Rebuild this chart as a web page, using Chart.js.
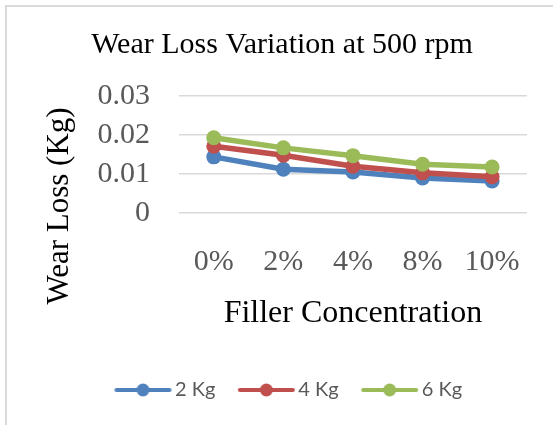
<!DOCTYPE html>
<html>
<head>
<meta charset="utf-8">
<script src="https://cdn.jsdelivr.net/npm/chart.js@4"></script>
<style>
  html, body { margin: 0; padding: 0; background: #fff; overflow: hidden; }
  #frame { position: absolute; left: 5px; top: 5px; width: 700px; height: 600px;
           border-left: 2px solid #d9d9d9; border-top: 2px solid #d9d9d9; }
  #c { position: absolute; left: 0; top: 0; }
</style>
</head>
<body>
<div id="frame"></div>
<canvas id="c" width="553" height="425"></canvas>
<script>
const categories = ['0%', '2%', '4%', '8%', '10%'];
const seriesNames = ['2 Kg', '4 Kg', '6 Kg'];
const kg2 = [0.0144, 0.0112, 0.0105, 0.0090, 0.0082];
const kg4 = [0.0171, 0.0148, 0.0120, 0.0103, 0.0093];
const kg6 = [0.0193, 0.0167, 0.0147, 0.0125, 0.0118];
const yTickLabels = ['0', '0.01', '0.02', '0.03'];
const titleText = 'Wear Loss Variation at 500 rpm';
const xTitleText = 'Filler Concentration';
const yTitleText = 'Wear Loss (Kg)';

const colors = ['#4f81bd', '#c0504d', '#9bbb59'];
const serif = "'Liberation Serif', 'Times New Roman', serif";

function legendIcon(color) {
  const cv = document.createElement('canvas');
  cv.width = 80; cv.height = 16;
  const g = cv.getContext('2d');
  g.strokeStyle = color; g.lineWidth = 4; g.lineCap = 'round';
  g.beginPath(); g.moveTo(23, 8); g.lineTo(76, 8); g.stroke();
  g.fillStyle = color;
  g.beginPath(); g.arc(49.5, 8, 6.5, 0, Math.PI * 2); g.fill();
  return cv;
}
const icons = colors.map(legendIcon);

const yTitlePlugin = {
  id: 'yTitle',
  afterDraw(chart) {
    const ctx = chart.ctx;
    ctx.save();
    ctx.translate(60, 206);
    ctx.rotate(-Math.PI / 2);
    ctx.font = "31px " + serif;
    ctx.fillStyle = '#000';
    ctx.textAlign = 'center';
    ctx.textBaseline = 'middle';
    ctx.fillText(yTitleText, 0, 0);
    ctx.restore();
  }
};

const seriesData = [kg2, kg4, kg6];
new Chart(document.getElementById('c'), {
  type: 'line',
  data: {
    labels: categories,
    datasets: seriesData.map((d, i) => ({
      label: seriesNames[i],
      data: d,
      borderColor: colors[i],
      backgroundColor: colors[i],
      borderWidth: 5.5,
      pointRadius: 7.5,
      pointHoverRadius: 7.5,
      pointBorderWidth: 0,
      pointBackgroundColor: colors[i],
      tension: 0,
      order: 3 - i
    }))
  },
  options: {
    responsive: false,
    devicePixelRatio: 1,
    animation: false,
    layout: { padding: { left: 11, right: 0, top: 0, bottom: 15 } },
    plugins: {
      tooltip: { enabled: false },
      title: {
        display: true,
        text: titleText,
        color: '#000',
        font: { family: serif, size: 30, weight: 'normal' },
        padding: { top: 27, bottom: 33 }
      },
      legend: {
        position: 'bottom',
        labels: {
          usePointStyle: true,
          pointStyleWidth: 63,
          padding: 10,
          color: '#595959',
          font: { family: "Lato, 'Open Sans', sans-serif", size: 20 },
          generateLabels(chart) {
            return chart.data.datasets.map((ds, i) => ({
              text: ds.label,
              pointStyle: icons[i],
              fontColor: '#595959',
              datasetIndex: i,
              hidden: false,
              lineWidth: 0,
              strokeStyle: 'transparent',
              fillStyle: colors[i]
            }));
          }
        }
      }
    },
    scales: {
      x: {
        offset: true,
        grid: { display: false, drawTicks: false },
        border: { display: false },
        ticks: {
          color: '#595959',
          padding: 31,
          maxRotation: 0,
          font: { family: serif, size: 30 }
        },
        title: {
          display: true,
          text: xTitleText,
          color: '#000',
          font: { family: serif, size: 32 },
          padding: { top: 0, bottom: 36.8 }
        },
        afterFit(s) { s.height = 157; }
      },
      y: {
        min: 0,
        max: 0.03,
        grid: { color: '#d9d9d9', lineWidth: 1.5, drawTicks: false },
        border: { display: false },
        ticks: {
          stepSize: 0.01,
          color: '#595959',
          padding: 29,
          font: { family: serif, size: 30 },
          callback: (v) => yTickLabels[Math.round(v / 0.01)]
        },
        afterFit(s) { s.width = 168; }
      },
      y2: {
        position: 'right',
        display: true,
        grid: { display: false, drawTicks: false },
        border: { display: false },
        ticks: { display: false },
        afterFit(s) { s.width = 24; }
      }
    }
  },
  plugins: [yTitlePlugin]
});
</script>
</body>
</html>
